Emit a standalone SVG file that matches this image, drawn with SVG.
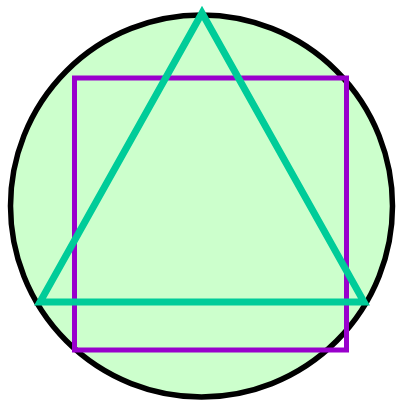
<svg xmlns="http://www.w3.org/2000/svg" width="397" height="403" viewBox="0 0 397 403">
<rect width="397" height="403" fill="#fff"/>
<g id="circle"><circle cx="201.5" cy="206" r="191" fill="#ccffcc" stroke="#000" stroke-width="5.5"/></g>
<g id="square"><rect x="74.5" y="78" width="272" height="272" fill="none" stroke="#9900cc" stroke-width="5"/></g>
<g id="triangle"><polygon points="202,13 40,302 364,302" fill="none" stroke="#00cc99" stroke-width="7"/></g>
</svg>
